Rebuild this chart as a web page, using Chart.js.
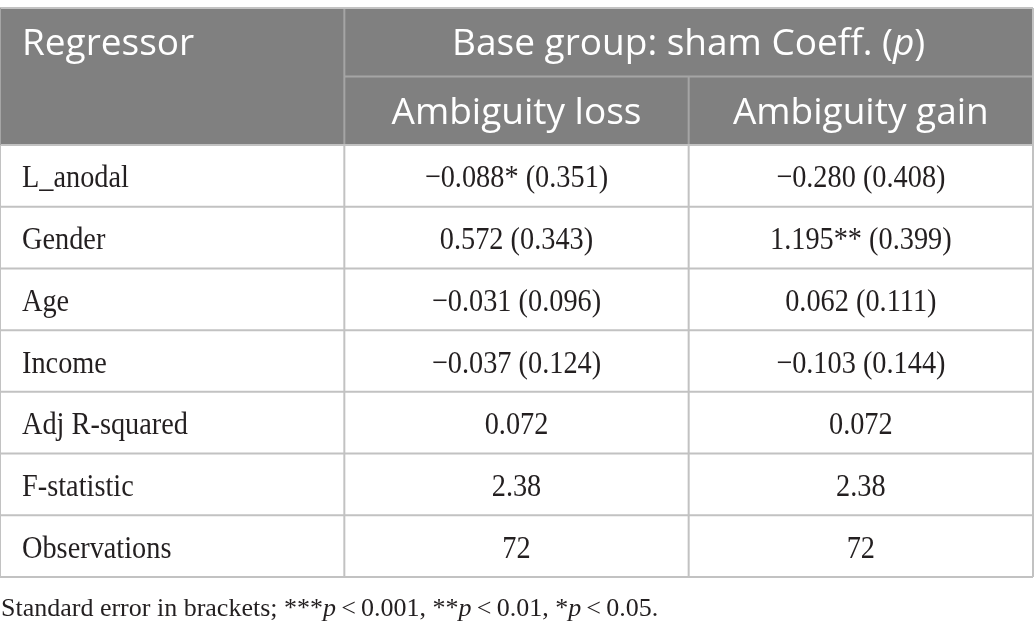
<!DOCTYPE html>
<html>
<head>
<meta charset="utf-8">
<script src="https://cdn.jsdelivr.net/npm/chart.js@4/dist/chart.umd.min.js"></script>
<style>
  body { margin: 0; background: #ffffff; }
  #chart-container { width: 1035px; height: 636px; }
</style>
</head>
<body>
<div id="chart-container"><canvas id="myChart" width="1035" height="636"></canvas></div>
<script>
//--------------------- Data

//Header texts
var firstColumnTitle = "Regressor"
var groupTitle = "Base group: sham Coeff. ("
var groupTitleItalic = "p"
var columnTitles = ["Ambiguity loss", "Ambiguity gain"]

//Regression rows, coefficient with standard error in brackets
var regressors = ["L_anodal", "Gender", "Age", "Income"]
var lossCoef = [-0.088, 0.572, -0.031, -0.037]
var lossSE = [0.351, 0.343, 0.096, 0.124]
var lossStars = ["*", "", "", ""]
var gainCoef = [-0.280, 1.195, 0.062, -0.103]
var gainSE = [0.408, 0.399, 0.111, 0.144]
var gainStars = ["", "**", "", ""]

//Model statistics rows
var statLabels = ["Adj R-squared", "F-statistic", "Observations"]
var lossStats = [0.072, 2.38, 72]
var gainStats = [0.072, 2.38, 72]

//Footnote, the odd entries are italic
var footnoteParts = ["Standard error in brackets; ***", "p", "\u2009<\u20090.001, **", "p", "\u2009<\u20090.01, *", "p", "\u2009<\u20090.05."]

// ------------------- Functions

//Formats a coefficient with a real minus sign
function formatNumber(value) {
    return (value < 0 ? "\u2212" : "") + Math.abs(value).toFixed(3)
}

//Builds the body rows as [label, loss text, gain text]
function createRows() {
    var rows = []
    for (var i = 0; i < regressors.length; i++)
    {
        rows.push([regressors[i],
            formatNumber(lossCoef[i]) + lossStars[i] + " (" + lossSE[i].toFixed(3) + ")",
            formatNumber(gainCoef[i]) + gainStars[i] + " (" + gainSE[i].toFixed(3) + ")"])
    }
    for (var j = 0; j < statLabels.length; j++)
    {
        rows.push([statLabels[j], String(lossStats[j]), String(gainStats[j])])
    }
    return rows
}

var bodyRows = createRows()

//Header rows are a bit taller than the body rows
var headerWeight = 1.11
var headerRows = 2
var totalUnits = headerRows * headerWeight + bodyRows.length

//Top edge of a row, in y scale units
function rowEdge(i) {
    if (i <= headerRows) return i * headerWeight
    return headerRows * headerWeight + (i - headerRows)
}

var headerFont = "37px 'Open Sans'"
var headerItalicFont = "italic 37px 'Open Sans'"
var headerCap = 0.714 * 37
var bodySize = 32
var bodyCap = 0.662 * bodySize
var bodyScale = 0.885
var footSize = 26
var footScale = 1.0
var cellPad = 22

//Draws serif text squeezed a little, so Liberation Serif is closer to the original
function serifText(ctx, text, px, py, align, size, italic, sx) {
    ctx.save()
    ctx.font = (italic ? "italic " : "") + size + "px 'Liberation Serif'"
    ctx.textAlign = align
    ctx.translate(px, py)
    ctx.scale(sx, 1)
    ctx.fillText(text, 0, 0)
    ctx.restore()
}

function serifWidth(ctx, text, size, italic, sx) {
    ctx.save()
    ctx.font = (italic ? "italic " : "") + size + "px 'Liberation Serif'"
    var w = ctx.measureText(text).width * sx
    ctx.restore()
    return w
}

function line(ctx, x1, y1, x2, y2, color) {
    ctx.strokeStyle = color
    ctx.lineWidth = 2
    ctx.beginPath()
    ctx.moveTo(x1, y1)
    ctx.lineTo(x2, y2)
    ctx.stroke()
}

//Plugin that paints the table cells through the chart scales
var tablePlugin = {
    id: "tablePlugin",
    afterDraw: function (chart) {
        var ctx = chart.ctx
        var xs = chart.scales.x
        var ys = chart.scales.y
        var X = function (v) { return xs.getPixelForValue(v) }
        var Y = function (v) { return ys.getPixelForValue(v) }

        ctx.save()
        ctx.fillStyle = "#ffffff"
        ctx.fillRect(0, 0, chart.width, chart.height)

        //Header background
        ctx.fillStyle = "#808080"
        ctx.fillRect(X(0), Y(0), X(3) - X(0), Y(rowEdge(headerRows)) - Y(0))

        //Header inner lines
        line(ctx, X(1), Y(rowEdge(1)), X(3), Y(rowEdge(1)), "#a5a5a5")
        line(ctx, X(1), Y(0), X(1), Y(rowEdge(headerRows)), "#a5a5a5")
        line(ctx, X(2), Y(rowEdge(1)), X(2), Y(rowEdge(headerRows)), "#a5a5a5")

        //Body grid
        var gridColor = "#c2c2c2"
        line(ctx, X(0), Y(0), X(3), Y(0), gridColor)
        for (var r = headerRows; r <= headerRows + bodyRows.length; r++)
        {
            line(ctx, X(0), Y(rowEdge(r)), X(3), Y(rowEdge(r)), gridColor)
        }
        for (var c = 0; c <= 3; c++)
        {
            var top = (c === 0 || c === 3) ? 0 : rowEdge(headerRows)
            line(ctx, X(c), Y(top), X(c), Y(totalUnits), gridColor)
        }
        line(ctx, X(0), Y(0), X(0), Y(rowEdge(headerRows)), "#a5a5a5")

        //Header texts
        ctx.fillStyle = "#ffffff"
        ctx.font = headerFont
        ctx.textAlign = "left"
        ctx.textBaseline = "alphabetic"
        var row1Mid = (Y(0) + Y(rowEdge(1))) / 2
        var row2Mid = (Y(rowEdge(1)) + Y(rowEdge(2))) / 2
        ctx.fillText(firstColumnTitle, X(0) + cellPad, row1Mid + headerCap / 2)

        //Group title with italic p, centred over both value columns
        var w1 = ctx.measureText(groupTitle).width
        ctx.font = headerItalicFont
        var w2 = ctx.measureText(groupTitleItalic).width
        ctx.font = headerFont
        var w3 = ctx.measureText(")").width
        var gx = (X(1) + X(3)) / 2 - (w1 + w2 + w3) / 2
        ctx.fillText(groupTitle, gx, row1Mid + headerCap / 2)
        ctx.font = headerItalicFont
        ctx.fillText(groupTitleItalic, gx + w1, row1Mid + headerCap / 2)
        ctx.font = headerFont
        ctx.fillText(")", gx + w1 + w2, row1Mid + headerCap / 2)

        ctx.textAlign = "center"
        for (var k = 0; k < columnTitles.length; k++)
        {
            ctx.fillText(columnTitles[k], (X(k + 1) + X(k + 2)) / 2, row2Mid + headerCap / 2)
        }

        //Body texts
        ctx.fillStyle = "#231f20"
        for (var i = 0; i < bodyRows.length; i++)
        {
            var mid = (Y(rowEdge(headerRows + i)) + Y(rowEdge(headerRows + i + 1))) / 2
            var base = mid + bodyCap / 2 + 1
            serifText(ctx, bodyRows[i][0], X(0) + cellPad, base, "left", bodySize, false, bodyScale)
            serifText(ctx, bodyRows[i][1], (X(1) + X(2)) / 2, base, "center", bodySize, false, bodyScale)
            serifText(ctx, bodyRows[i][2], (X(2) + X(3)) / 2, base, "center", bodySize, false, bodyScale)
        }

        //Footnote under the table
        var fx = X(0) + 1
        var fy = Y(totalUnits) + 39
        for (var f = 0; f < footnoteParts.length; f++)
        {
            var italic = f % 2 === 1
            serifText(ctx, footnoteParts[f], fx, fy, "left", footSize, italic, footScale)
            fx += serifWidth(ctx, footnoteParts[f], footSize, italic, footScale)
        }
        ctx.restore()
    }
}

//Creates the table chart using Chart.js framework
function createGraph() {
    const ctx = document.getElementById("myChart")
    const myChart = new Chart(ctx, {
        type: "scatter",
        data: { datasets: [] },
        options: {
            animation: false,
            responsive: false,
            devicePixelRatio: 1,
            layout: { padding: { left: 0, right: 2, top: 8, bottom: 59 } },
            scales: {
                x: { type: "linear", min: 0, max: 3, display: false },
                y: { type: "linear", min: 0, max: totalUnits, reverse: true, display: false }
            },
            plugins: {
                legend: { display: false },
                tooltip: { enabled: false }
            }
        },
        plugins: [tablePlugin]
    })
}

createGraph()
</script>
</body>
</html>
